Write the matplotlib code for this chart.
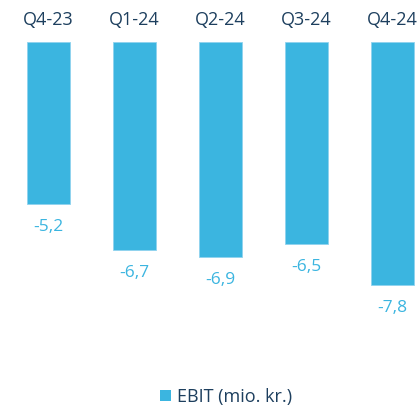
import matplotlib
matplotlib.use("Agg")
import matplotlib.pyplot as plt
from matplotlib.patches import Patch

quarters = ["Q4-23", "Q1-24", "Q2-24", "Q3-24", "Q4-24"]
ebit = [-5.2, -6.7, -6.9, -6.5, -7.8]
value_labels = ["-5,2", "-6,7", "-6,9", "-6,5", "-7,8"]

bar_color = "#3bb5e0"
text_dark = "#1d3f5e"

plt.rcParams["font.family"] = ["Open Sans", "DejaVu Sans"]

W, H = 420, 407
fig = plt.figure(figsize=(W / 100, H / 100), dpi=100)
ax = fig.add_axes([0, 0, 1, 1])

px_per_unit = 31.1
x_step = 86.0
x0 = 48.5
zero_y = 42

xs = range(len(quarters))
ax.bar(xs, ebit, width=0.5, color=bar_color, edgecolor="#8fd3ee", linewidth=0.6)

for i, (v, lab) in enumerate(zip(ebit, value_labels)):
    ax.text(i, v - 23 / px_per_unit, lab, ha="center", va="center",
            fontsize=12.5, color=bar_color)
    ax.text(i, (zero_y - 20) / px_per_unit, quarters[i], ha="center", va="center",
            fontsize=13, color=text_dark)

ax.set_xlim(-x0 / x_step, (W - x0) / x_step)
ax.set_ylim(-(H - zero_y) / px_per_unit, zero_y / px_per_unit)
ax.axis("off")

handle = Patch(facecolor=bar_color, edgecolor="none")
fig.legend([handle], ["EBIT (mio. kr.)"], loc="center", bbox_to_anchor=(226 / W, 1 - 397 / H),
           frameon=False, fontsize=13, labelcolor=text_dark, handlelength=0.6,
           handleheight=0.6, handletextpad=0.3)

fig.savefig("out.png", dpi=100)
